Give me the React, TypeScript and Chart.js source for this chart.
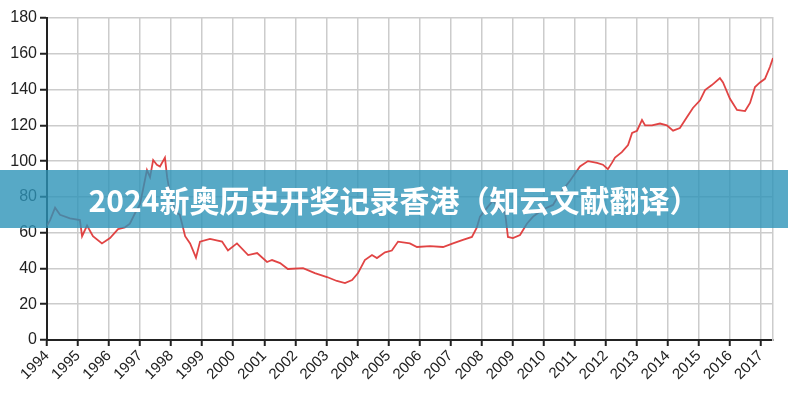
import React, { useEffect, useRef } from "react";
import { Chart, registerables } from "chart.js";

Chart.register(...registerables);

const years: number[] = [
  1994.0, 1994.1, 1994.26, 1994.42, 1994.74, 1995.06, 1995.13, 1995.29, 1995.48, 1995.77,
  1996.03, 1996.29, 1996.51, 1996.67, 1996.84, 1997.0, 1997.22, 1997.32, 1997.42, 1997.54,
  1997.64, 1997.8, 1997.87, 1997.96, 1998.12, 1998.28, 1998.45, 1998.61, 1998.8, 1998.93,
  1999.25, 1999.64, 1999.83, 2000.12, 2000.48, 2000.77, 2001.09, 2001.25, 2001.51, 2001.76,
  2002.25, 2002.63, 2003.02, 2003.34, 2003.6, 2003.83, 2004.02, 2004.24, 2004.47, 2004.63,
  2004.89, 2005.11, 2005.31, 2005.69, 2005.92, 2006.34, 2006.76, 2007.08, 2007.4, 2007.69,
  2007.85, 2007.95, 2008.18, 2008.37, 2008.53, 2008.76, 2008.85, 2009.01, 2009.24, 2009.46,
  2009.66, 2009.98, 2010.3, 2010.53, 2010.85, 2011.17, 2011.43, 2011.72, 2011.91, 2012.07,
  2012.2, 2012.3, 2012.52, 2012.72, 2012.85, 2013.01, 2013.17, 2013.27, 2013.49, 2013.75,
  2013.97, 2014.17, 2014.39, 2014.62, 2014.81, 2015.04, 2015.2, 2015.42, 2015.68, 2015.78,
  2016.0, 2016.23, 2016.49, 2016.65, 2016.81, 2016.97, 2017.13, 2017.29, 2017.39,
];

const values: number[] = [
  64, 67, 74, 70, 68, 67, 58, 64, 58, 54,
  57, 62, 63, 65, 71, 76, 95, 91, 100.6, 98,
  97, 102, 91, 82, 72, 70, 58, 54, 46, 55,
  56.5, 55, 50, 54, 47.5, 48.6, 43.6, 44.7, 43, 39.7,
  40.2, 37.4, 35.2, 33, 31.8, 33.5, 37.4, 44.7, 47.5, 45.8,
  49, 50, 55, 54, 52, 52.5, 52, 54, 56, 57.6,
  63, 69, 74, 78, 74, 71, 57.6, 57, 58.7, 65,
  69, 73, 75.5, 82, 89, 97, 100, 99, 98, 95.5,
  99, 102, 105, 109, 115.7, 117, 123, 120, 120, 121,
  120, 117, 118.5, 124.7, 129.7, 134, 139.7, 142.5, 146.4, 144,
  135, 128.6, 128, 132.5, 141.4, 144, 146, 152.6, 157.6,
];

const yTicks = { min: 0, max: 180, step: 20 };
const firstYear = 1994;
const bannerText = "2024新奥历史开奖记录香港（知云文献翻译）";

export default function App() {
  const ref = useRef<HTMLCanvasElement | null>(null);

  useEffect(() => {
    if (!ref.current) return;
    const tickFont = { family: "'Liberation Sans', Arial, sans-serif", size: 16 };
    const chart = new Chart(ref.current, {
      type: "line",
      data: {
        datasets: [
          {
            data: years.map((y, i) => ({ x: y, y: values[i] })),
            borderColor: "rgba(222,52,52,0.92)",
            borderWidth: 1.8,
            pointRadius: 0,
            tension: 0,
            fill: false,
          },
        ],
      },
      options: {
        animation: false,
        responsive: false,
        devicePixelRatio: 1,
        layout: { padding: { top: 18, left: 0, right: 0, bottom: 0 } },
        plugins: { legend: { display: false }, tooltip: { enabled: false } },
        scales: {
          x: {
            type: "linear",
            min: firstYear,
            max: years[years.length - 1],
            ticks: {
              stepSize: 1,
              includeBounds: false,
              autoSkip: false,
              minRotation: 45,
              maxRotation: 45,
              color: "#222",
              padding: 1,
              font: { ...tickFont, size: 15 },
              callback: (v: any) => String(v),
            },
            grid: { color: "#cccccc", lineWidth: 1.5, tickLength: 6, tickColor: "#222", tickWidth: 2 },
            border: { color: "#222", width: 2 },
            afterFit: (s: any) => {
              s.height = 60;
            },
          },
          y: {
            min: yTicks.min,
            max: yTicks.max,
            ticks: { stepSize: yTicks.step, color: "#222", padding: 3, font: tickFont },
            grid: { color: "#cccccc", lineWidth: 1.5, tickLength: 7, tickColor: "#222", tickWidth: 2 },
            border: { color: "#222", width: 2 },
            afterFit: (s: any) => {
              s.width = 47;
            },
          },
          y2: {
            position: "right",
            min: yTicks.min,
            max: yTicks.max,
            ticks: { display: false },
            grid: { display: false, drawTicks: false },
            border: { display: true, color: "#cccccc", width: 1.5 },
            afterFit: (s: any) => {
              s.width = 15;
            },
          },
        },
      },
    });
    return () => chart.destroy();
  }, []);

  return (
    <div style={{ position: "fixed", left: 0, top: 0, width: 788, height: 400, background: "#fff", overflow: "hidden" }}>
      <canvas ref={ref} width={788} height={400} style={{ display: "block", width: 788, height: 400 }} />
      <div
        style={{
          position: "absolute",
          left: 0,
          top: 170,
          width: 788,
          height: 58,
          background: "rgba(45,148,184,0.8)",
          color: "#fff",
          display: "flex",
          alignItems: "center",
          justifyContent: "center",
          fontFamily: "'Noto Sans CJK SC', 'Noto Sans', sans-serif",
          fontWeight: 700,
          fontSize: 30,
          whiteSpace: "nowrap",
        }}
      >
        {bannerText}
      </div>
    </div>
  );
}
